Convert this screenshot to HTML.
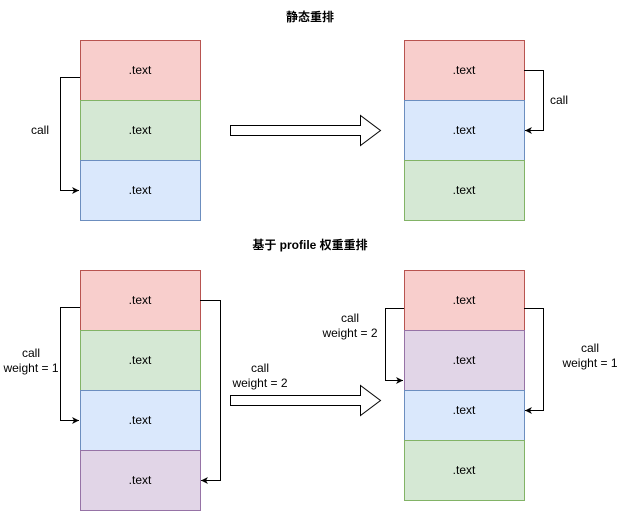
<!DOCTYPE html>
<html><head><meta charset="utf-8"><style>
body{margin:0;background:#fff;}
svg{display:block;font-family:"Liberation Sans","Noto Sans CJK SC",sans-serif;}
</style></head><body>
<svg width="620" height="511" viewBox="0 0 620 511" xmlns="http://www.w3.org/2000/svg">
<defs><marker id="a" markerWidth="8" markerHeight="8" refX="7" refY="4" orient="auto" markerUnits="userSpaceOnUse"><path d="M0,0.5 L7,4 L0,7.5 L2,4 Z" fill="#000"/></marker></defs>
<g font-size="12" text-anchor="middle">
<text x="310" y="21" font-weight="bold" font-size="12">静态重排</text>
<text x="310" y="249" font-weight="bold" font-size="12">基于 profile 权重重排</text>
</g>
<g stroke-width="1">
<rect x="80.5" y="40.5" width="120" height="60" fill="#f8cecc" stroke="#b85450"/>
<rect x="80.5" y="100.5" width="120" height="60" fill="#d5e8d4" stroke="#82b366"/>
<rect x="80.5" y="160.5" width="120" height="60" fill="#dae8fc" stroke="#6c8ebf"/>
<rect x="404.5" y="40.5" width="120" height="60" fill="#f8cecc" stroke="#b85450"/>
<rect x="404.5" y="100.5" width="120" height="60" fill="#dae8fc" stroke="#6c8ebf"/>
<rect x="404.5" y="160.5" width="120" height="60" fill="#d5e8d4" stroke="#82b366"/>
<rect x="80.5" y="270.5" width="120" height="60" fill="#f8cecc" stroke="#b85450"/>
<rect x="80.5" y="330.5" width="120" height="60" fill="#d5e8d4" stroke="#82b366"/>
<rect x="80.5" y="390.5" width="120" height="60" fill="#dae8fc" stroke="#6c8ebf"/>
<rect x="80.5" y="450.5" width="120" height="60" fill="#e1d5e7" stroke="#9673a6"/>
<rect x="404.5" y="270.5" width="120" height="60" fill="#f8cecc" stroke="#b85450"/>
<rect x="404.5" y="330.5" width="120" height="60" fill="#e1d5e7" stroke="#9673a6"/>
<rect x="404.5" y="390.5" width="120" height="50" fill="#dae8fc" stroke="#6c8ebf"/>
<rect x="404.5" y="440.5" width="120" height="60" fill="#d5e8d4" stroke="#82b366"/>
</g>
<g font-size="12" text-anchor="middle" fill="#000">
<text x="140" y="74">.text</text><text x="140" y="134">.text</text><text x="140" y="194">.text</text>
<text x="464" y="74">.text</text><text x="464" y="134">.text</text><text x="464" y="194">.text</text>
<text x="140" y="304">.text</text><text x="140" y="364">.text</text><text x="140" y="424">.text</text><text x="140" y="484">.text</text>
<text x="464" y="304">.text</text><text x="464" y="364">.text</text><text x="464" y="414">.text</text><text x="464" y="474">.text</text>
</g>
<g fill="none" stroke="#000" stroke-width="1">
<path d="M80,77.5 H60.5 V190.5 H79" marker-end="url(#a)"/>
<path d="M524,70.5 H543.5 V130.5 H525" marker-end="url(#a)"/>
<path d="M80,307.5 H60.5 V420.5 H79" marker-end="url(#a)"/>
<path d="M200,300.5 H220.5 V480.5 H201" marker-end="url(#a)"/>
<path d="M404,308.5 H385.5 V380.5 H403" marker-end="url(#a)"/>
<path d="M524,308.5 H543.5 V410.5 H525" marker-end="url(#a)"/>
<path d="M230.5,125.5 H360.5 V115.5 L380.5,130.5 L360.5,145.5 V135.5 H230.5 Z" fill="#fff"/>
<path d="M230.5,395.5 H360.5 V385.5 L380.5,400.5 L360.5,415.5 V405.5 H230.5 Z" fill="#fff"/>
</g>
<g font-size="12" text-anchor="middle" fill="#000">
<text x="40" y="134" fill="#000" stroke="#fff" stroke-width="0">call</text>
<text x="559" y="104">call</text>
<text x="31" y="357">call</text><text x="31" y="372">weight = 1</text>
<text x="260" y="372">call</text><text x="260" y="387">weight = 2</text>
<text x="350" y="322">call</text><text x="350" y="337">weight = 2</text>
<text x="590" y="352">call</text><text x="590" y="367">weight = 1</text>
</g>
</svg>
</body></html>
